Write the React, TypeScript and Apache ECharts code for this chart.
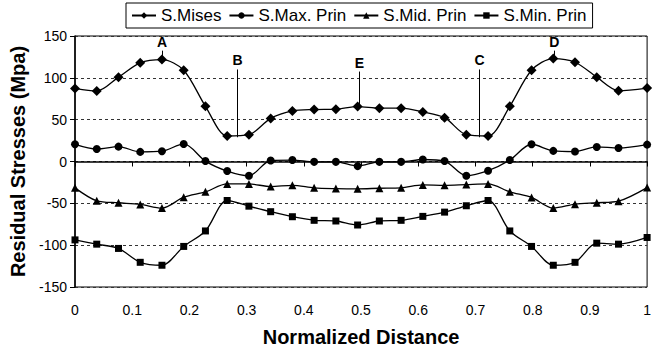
import React, { useEffect, useRef } from "react";
import * as echarts from "echarts";

const xValues = [0, 0.038, 0.076, 0.114, 0.152, 0.19, 0.228, 0.266, 0.304, 0.342, 0.38, 0.418, 0.456, 0.494, 0.532, 0.57, 0.608, 0.646, 0.684, 0.722, 0.76, 0.798, 0.836, 0.874, 0.912, 0.95, 1.0];
const misesValues = [87.4, 84.2, 100.8, 117.9, 121.8, 109.1, 66, 30.5, 32, 51.5, 60.5, 62.1, 62.5, 65.7, 63.7, 63.7, 59.3, 52.4, 32, 30.5, 66, 109.1, 123, 118.6, 100.8, 84.7, 87.8];
const maxPrinValues = [20.6, 15, 17.8, 11.5, 12.3, 21, 0.5, -11.4, -17, 1.2, 1.7, -0.4, -0.4, -5.5, -0.4, -0.4, 2.4, 0.5, -17, -11, 1.7, 20.6, 12.7, 11.9, 17.4, 16.2, 20.2];
const midPrinValues = [-31.5, -47, -49.3, -51.3, -55.7, -42.7, -36.3, -26.8, -26.8, -30, -28.5, -31.5, -32.4, -32.7, -32, -31.5, -28, -28.5, -27.6, -26.8, -36.3, -43, -55.7, -51, -49.3, -47.4, -31.2];
const minPrinValues = [-93.7, -98.8, -103.9, -120.5, -124, -101.5, -83, -46.6, -53.4, -60, -66, -70.3, -71.1, -75.9, -71.1, -70.3, -65.6, -60.5, -52.9, -46.6, -83, -101.5, -124, -120.5, -97.6, -98.8, -90.8];

const seriesNames = ["S.Mises", "S.Max. Prin", "S.Mid. Prin", "S.Min. Prin"];
const seriesSymbols = ["diamond", "circle", "triangle", "rect"];
const seriesSizes = [10, 8, 8, 7];

// annotations: label, x, line start y, line end y
const annotLabels = ["A", "B", "E", "C", "D"];
const annotX = [0.152, 0.284, 0.497, 0.707, 0.838];
const annotY0 = [123, 29, 66, 29, 123];
const annotY1 = [132.5, 110, 107.5, 110, 132.5];

const FONT = "'Liberation Sans', Arial, sans-serif";

export default function App() {
  const ref = useRef<HTMLDivElement>(null);
  useEffect(() => {
    if (!ref.current) return;
    const chart = echarts.init(ref.current, undefined, { renderer: "svg" });
    const allValues = [misesValues, maxPrinValues, midPrinValues, minPrinValues];
    const series: any[] = allValues.map((vals, si) => ({
      name: seriesNames[si],
      type: "line",
      data: xValues.map((x, i) => [x, vals[i]]),
      smooth: 0.3,
      symbol: seriesSymbols[si],
      symbolSize: seriesSizes[si],
      showAllSymbol: true,
      lineStyle: { color: "#000", width: 1.3 },
      itemStyle: { color: "#000" },
      z: 3,
    }));
    series[0].markLine = {
      silent: true,
      symbol: "none",
      animation: false,
      lineStyle: { color: "#000", width: 1, type: "solid" },
      label: {
        show: true,
        position: "end",
        distance: 2,
        color: "#000",
        fontFamily: FONT,
        fontWeight: "bold",
        fontSize: 14,
      },
      data: annotLabels.map((lab, i) => [
        { coord: [annotX[i], annotY0[i]], label: { formatter: lab } },
        { coord: [annotX[i], annotY1[i]] },
      ]),
    };
    chart.setOption({
      animation: false,
      backgroundColor: "#fff",
      textStyle: { fontFamily: FONT },
      legend: {
        show: true,
        left: 126,
        top: 3,
        orient: "horizontal",
        data: seriesNames,
        borderColor: "#000",
        borderWidth: 1,
        padding: [4, 6, 4, 5],
        itemWidth: 24,
        itemHeight: 8,
        itemGap: 7,
        textStyle: { color: "#000", fontSize: 17, fontFamily: FONT },
      },
      grid: {
        left: 73,
        right: 1,
        top: 36,
        bottom: 63,
        show: true,
        borderColor: "#000",
        borderWidth: 1,
        backgroundColor: "transparent",
      },
      xAxis: {
        type: "value",
        min: 0,
        max: 1,
        interval: 0.1,
        name: "Normalized Distance",
        nameLocation: "middle",
        nameGap: 40,
        nameTextStyle: { color: "#000", fontSize: 20, fontWeight: "bold", fontFamily: FONT },
        axisLine: { show: true, lineStyle: { color: "#000", width: 1.5 } },
        axisTick: { show: true, length: 5, lineStyle: { color: "#000" } },
        axisLabel: { color: "#000", fontSize: 14, margin: 16, fontFamily: FONT, formatter: (v: number) => String(Math.round(v * 10) / 10) },
        splitLine: { show: false },
      },
      yAxis: {
        type: "value",
        min: -150,
        max: 150,
        interval: 50,
        name: "Residual Stresses (Mpa)",
        nameLocation: "middle",
        nameGap: 47,
        nameTextStyle: { color: "#000", fontSize: 20, fontWeight: "bold", fontFamily: FONT },
        axisLine: { show: true, lineStyle: { color: "#000", width: 1.5 } },
        axisTick: { show: true, length: 5, lineStyle: { color: "#000" } },
        axisLabel: { color: "#000", fontSize: 14, margin: 8, fontFamily: FONT },
        splitLine: { show: true, lineStyle: { color: "#333", width: 1, type: [3, 3] } },
      },
      series,
    });
    return () => chart.dispose();
  }, []);
  return (
    <div
      ref={ref}
      style={{ position: "absolute", left: 0, top: 0, width: 654, height: 352, background: "#fff" }}
    />
  );
}
